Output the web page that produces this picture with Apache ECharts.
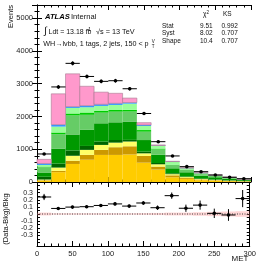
<!DOCTYPE html>
<html>
<head>
<meta charset="utf-8">
<script src="https://cdn.jsdelivr.net/npm/echarts@6/dist/echarts.min.js"></script>
<style>
html, body { margin: 0; padding: 0; background: #fff; }
#chart { width: 259px; height: 263px; }
</style>
</head>
<body>
<div id="chart"></div>
<script>
// MET bins, 20 wide
var binLow  = [0, 20, 40, 60, 80, 100, 120, 140, 160, 180, 200, 220, 240, 260, 280];
var binHigh = [20, 40, 60, 80, 100, 120, 140, 160, 180, 200, 220, 240, 260, 280, 300];

// data and its error
var dataVals = [855, 2900, 3620, 3220, 3070, 3090, 2845, 2090, 1230, 795, 468, 315, 214, 144, 101];
var dataErr  = [30, 55, 60, 57, 55, 56, 53, 46, 35, 28, 22, 18, 14, 12, 10];

// backgrounds, bottom to top
var ttbar    = [40, 300, 550, 680, 826, 826, 840, 590, 380, 144, 90, 55, 40, 25, 15];
var stopWt   = [15, 40, 100, 150, 155, 235, 250, 205, 90, 60, 30, 20, 15, 10, 5];
var stopT    = [20, 100, 150, 150, 150, 140, 145, 80, 70, 35, 30, 15, 10, 7, 5];
var wbb      = [85, 120, 160, 120, 100, 80, 50, 50, 40, 26, 15, 10, 10, 8, 5];
var wbc      = [130, 460, 490, 490, 560, 540, 560, 355, 250, 153, 132, 90, 70, 50, 27];
var wcc      = [160, 440, 580, 460, 325, 325, 305, 255, 160, 100, 73, 45, 35, 25, 13];
var wbl      = [20, 50, 60, 70, 60, 50, 50, 50, 30, 10, 10, 7, 5, 3, 2];
var wcl      = [50, 180, 170, 160, 145, 155, 190, 125, 80, 85, 40, 28, 20, 14, 8];
var zjets    = [45, 60, 40, 50, 50, 50, 35, 30, 15, 10, 8, 6, 4, 2, 2];
var multijet = [125, 940, 1000, 590, 370, 305, 135, 70, 15, 9, 5, 4, 3, 2, 1];

// MC stat band in the ratio
var mcErr = [0.02, 0.01, 0.01, 0.01, 0.01, 0.01, 0.01, 0.012, 0.015, 0.02, 0.02, 0.025, 0.03, 0.035, 0.04];

var layers = [
    { name: 'ttbar', vals: ttbar, color: '#FFCC00' },
    { name: 'stopWt', vals: stopWt, color: '#CC9900' },
    { name: 'stopT', vals: stopT, color: '#FFFF66' },
    { name: 'Wbb', vals: wbb, color: '#006600' },
    { name: 'Wbc', vals: wbc, color: '#009900' },
    { name: 'Wcc', vals: wcc, color: '#66CC66' },
    { name: 'Wbl', vals: wbl, color: '#00CC00' },
    { name: 'Wcl', vals: wcl, color: '#99FF99' },
    { name: 'Zjets', vals: zjets, color: '#3399FF' },
    { name: 'multijet', vals: multijet, color: '#FF99CC' }
];

var FONT = '"Liberation Sans", Arial, Helvetica, sans-serif';

function rectItem(color, stroke) {
    return function (params, api) {
        var lo = api.coord([api.value(0), api.value(2)]);
        var hi = api.coord([api.value(1), api.value(3)]);
        return {
            type: 'rect',
            shape: { x: lo[0], y: hi[1], width: hi[0] - lo[0], height: lo[1] - hi[1] },
            style: { fill: color, stroke: stroke || null, lineWidth: stroke ? 0.6 : 0 }
        };
    };
}

function pointItem(params, api) {
    var c = api.coord([api.value(0), api.value(1)]);
    var l = api.coord([api.value(3), api.value(1)]);
    var r = api.coord([api.value(4), api.value(1)]);
    var up = api.coord([api.value(0), api.value(1) + api.value(2)]);
    var dn = api.coord([api.value(0), api.value(1) - api.value(2)]);
    return {
        type: 'group',
        children: [
            { type: 'line', shape: { x1: l[0], y1: c[1], x2: r[0], y2: c[1] }, style: { stroke: '#000', lineWidth: 1 } },
            { type: 'line', shape: { x1: c[0], y1: up[1], x2: c[0], y2: dn[1] }, style: { stroke: '#000', lineWidth: 1 } },
            { type: 'circle', shape: { cx: c[0], cy: c[1], r: 1.8 }, style: { fill: '#000' } }
        ]
    };
}

// build stack
var total = binLow.map(function () { return 0; });
var series = [];
layers.forEach(function (ly, li) {
    var rows = [];
    for (var i = 0; i < binLow.length; i++) {
        var base = total[i];
        total[i] += ly.vals[i];
        rows.push([binLow[i], binHigh[i], base, total[i]]);
    }
    series.push({
        name: ly.name,
        type: 'custom',
        xAxisIndex: 0,
        yAxisIndex: 0,
        renderItem: rectItem(ly.color, li === layers.length - 1 ? '#a87890' : null),
        encode: { x: [0, 1], y: [2, 3] },
        data: rows,
        silent: true
    });
});

var dataRows = [], ratioRows = [], bandRows = [];
for (var i = 0; i < binLow.length; i++) {
    var mid = (binLow[i] + binHigh[i]) / 2;
    dataRows.push([mid, dataVals[i], dataErr[i], binLow[i], binHigh[i]]);
    ratioRows.push([mid, dataVals[i] / total[i] - 1, dataErr[i] / total[i], binLow[i], binHigh[i]]);
    bandRows.push([binLow[i], binHigh[i], -mcErr[i], mcErr[i]]);
}

series.push({
    type: 'custom', xAxisIndex: 0, yAxisIndex: 0,
    renderItem: pointItem, encode: { x: 0, y: 1 }, data: dataRows, z: 10
});
series.push({
    type: 'custom', xAxisIndex: 2, yAxisIndex: 2,
    renderItem: rectItem('rgba(255,120,120,0.3)'), encode: { x: [0, 1], y: [2, 3] }, data: bandRows
});
series.push({
    type: 'line', xAxisIndex: 2, yAxisIndex: 2, data: [[0, 0], [300, 0]],
    symbol: 'none', lineStyle: { color: '#444', width: 1, type: [1, 1.5] }, silent: true
});
series.push({
    type: 'custom', xAxisIndex: 2, yAxisIndex: 2,
    renderItem: pointItem, encode: { x: 0, y: 1 }, data: ratioRows, z: 10
});

function xAx(grid, pos, labels) {
    return {
        type: 'value', gridIndex: grid, position: pos, min: 0, max: 300, interval: 50,
        axisLine: { onZero: false, lineStyle: { color: '#000', width: 1 } },
        axisTick: { inside: true, length: 5, lineStyle: { color: '#000' } },
        minorTick: { show: true, splitNumber: 5, length: 2.5, lineStyle: { color: '#000' } },
        axisLabel: { show: labels, fontSize: 7.5, color: '#222', margin: 4, fontFamily: FONT },
        splitLine: { show: false }
    };
}

var yMain = {
    type: 'value', gridIndex: 0, min: 0, max: 5400, interval: 1000,
    axisLine: { show: true, lineStyle: { color: '#000', width: 1 } },
    axisTick: { inside: true, length: 5, lineStyle: { color: '#000' } },
    minorTick: { show: true, splitNumber: 5, length: 2.5, lineStyle: { color: '#000' } },
    splitLine: { show: false }
};

function ratioY(pos, labels) {
    return {
        type: 'value', gridIndex: 1, position: pos, min: -0.45, max: 0.45, interval: 0.05,
        axisLine: { show: true, onZero: false, lineStyle: { color: '#000', width: 1 } },
        axisTick: { inside: true, length: 3, lineStyle: { color: '#000' } },
        splitLine: { show: false },
        axisLabel: {
            show: labels, fontSize: 7, color: '#222', margin: 4, fontFamily: FONT,
            formatter: function (v) {
                var k = Math.round(v * 100);
                if (k % 10 !== 0 || Math.abs(k) > 30) return '';
                return String(k / 100);
            }
        }
    };
}

function txt(x, y, text, size, extra) {
    var st = { text: text, fontSize: size, fontFamily: FONT, fill: '#111', verticalAlign: 'middle', align: 'left' };
    for (var k in extra || {}) st[k] = extra[k];
    return { type: 'text', x: x, y: y, style: st, z: 50 };
}

var eventsLabel = txt(11, 5, 'Events', 7.5, { align: 'right' });
eventsLabel.rotation = Math.PI / 2;
var ratioLabel = txt(5.5, 219, '(Data-Bkg)/Bkg', 7.5, { align: 'center' });
ratioLabel.rotation = Math.PI / 2;

var option = {
    animation: false,
    backgroundColor: '#fff',
    grid: [
        { left: 37, right: 8, top: 5, height: 177 },
        { left: 37, right: 8, top: 182, height: 64 }
    ],
    xAxis: [xAx(0, 'bottom', false), xAx(0, 'top', false), xAx(1, 'bottom', true), xAx(1, 'top', false)],
    yAxis: [
        Object.assign({}, yMain, {
            position: 'left',
            axisLabel: {
                fontSize: 7.5, color: '#222', margin: 4, fontFamily: FONT,
                formatter: function (v) { return v % 1000 === 0 ? String(v) : ''; }
            }
        }),
        Object.assign({}, yMain, { position: 'right', axisLabel: { show: false } }),
        ratioY('left', true),
        ratioY('right', false)
    ],
    series: series,
    graphic: [
        eventsLabel,
        ratioLabel,
        txt(45, 17, 'ATLAS', 7.6, { fontWeight: 'bold', fontStyle: 'italic', fill: '#000' }),
        txt(71, 17, 'Internal', 7.6),
        txt(44, 31.5, '\u222B', 10),
        txt(48.5, 32, 'Ldt = 13.18 fb', 7),
        txt(86.5, 29.5, '-1', 5),
        txt(96, 32, '\u221As = 13 TeV', 7.3),
        txt(43.3, 44.5, 'WH\u2192lvbb, 1 tags, 2 jets, 150 < p', 7.2),
        txt(151.8, 46.5, 'T', 4.5),
        txt(151.8, 41.8, 'V', 4.5),
        txt(203, 14.5, '\u03C7', 6.5),
        txt(206.5, 12.5, '2', 4.5),
        txt(223, 14.5, 'KS', 6.5),
        txt(162, 26, 'Stat', 6.5),
        txt(200, 26, '9.51', 6.5),
        txt(221.5, 26, '0.992', 6.5),
        txt(162, 33, 'Syst', 6.5),
        txt(200, 33, '8.02', 6.5),
        txt(221.5, 33, '0.707', 6.5),
        txt(162, 41, 'Shape', 6.5),
        txt(200, 41, '10.4', 6.5),
        txt(221.5, 41, '0.707', 6.5),
        txt(240, 259, 'MET', 8, { align: 'center' })
    ]
};

var chart = echarts.init(document.getElementById('chart'));
chart.setOption(option);
</script>
</body>
</html>
